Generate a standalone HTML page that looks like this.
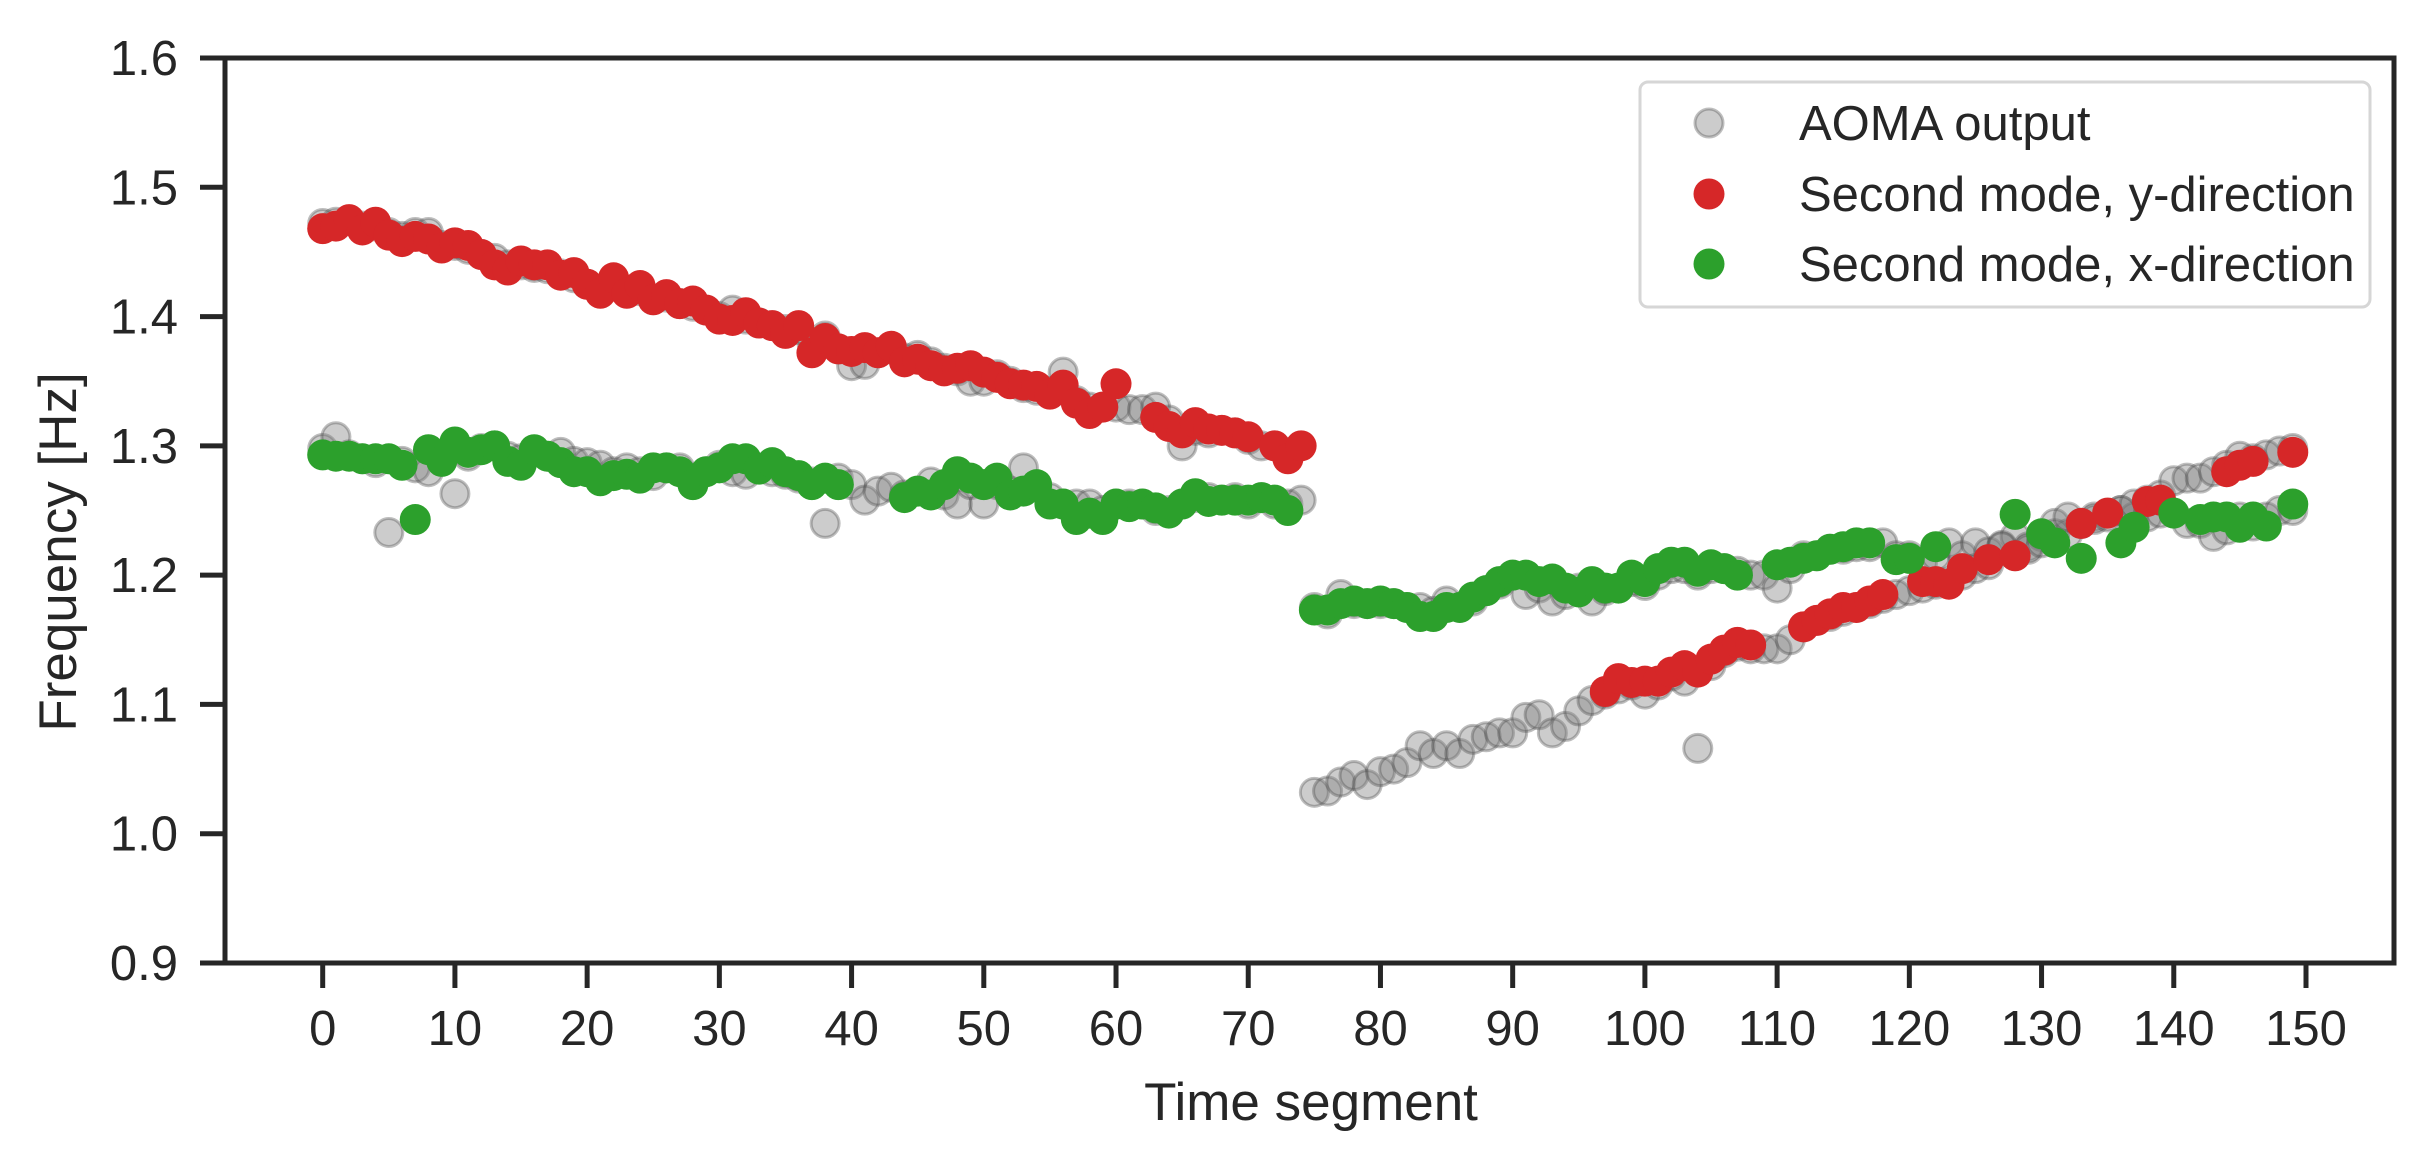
<!DOCTYPE html>
<html><head><meta charset="utf-8"><style>
html,body{margin:0;padding:0;background:#fff;}
svg{display:block;font-family:"Liberation Sans",Arial,sans-serif;}
</style></head><body>
<svg id="chart" width="2434" height="1165" viewBox="0 0 2434 1165" xmlns="http://www.w3.org/2000/svg">
<rect x="0" y="0" width="2434" height="1165" fill="#fff"/>
<g id="marks"></g>
<g id="axes"></g>
</svg>
<script>
const xTicks=[0,10,20,30,40,50,60,70,80,90,100,110,120,130,140,150];
const yTicks=[0.9,1.0,1.1,1.2,1.3,1.4,1.5,1.6];
const yTickLabels=["0.9","1.0","1.1","1.2","1.3","1.4","1.5","1.6"];
// AOMA output (grey), four branches
const aomaUpper=[1.472,1.473,1.474,1.470,1.470,1.465,1.462,1.465,1.465,1.455,1.455,1.452,1.448,1.445,1.440,1.440,1.438,1.437,1.433,1.430,1.425,1.420,1.425,1.420,1.420,1.413,1.415,1.410,1.408,1.405,1.400,1.405,1.398,1.395,1.393,1.390,1.390,1.380,1.385,1.375,1.362,1.363,1.372,1.375,1.368,1.370,1.365,1.360,1.358,1.350,1.350,1.355,1.350,1.345,1.343,1.342,1.357,1.335,1.330,1.330,1.330,1.328,1.328,1.330,1.320,1.300,1.312,1.310,1.312,1.310,1.305,1.300,1.300,1.295,null];
const aomaLower=[1.298,1.307,1.293,1.290,1.287,1.233,1.288,1.283,1.280,1.290,1.263,1.292,1.298,1.300,1.292,1.290,1.295,1.292,1.295,1.288,1.287,1.285,1.280,1.283,1.280,1.277,1.283,1.283,1.275,1.280,1.285,1.280,1.278,1.283,1.280,1.278,1.275,1.272,1.240,1.275,1.270,1.258,1.265,1.268,1.262,1.265,1.272,1.262,1.255,1.270,1.255,1.270,1.265,1.283,1.268,1.260,1.255,1.255,1.255,1.250,1.255,1.255,1.255,1.250,1.250,1.255,1.260,1.260,1.258,1.260,1.255,1.260,1.255,1.255,1.258];
const aomaHigh=[1.175,1.170,1.185,1.178,1.178,1.178,1.178,1.175,1.175,1.172,1.180,1.175,1.180,1.188,1.193,1.200,1.185,1.190,1.180,1.185,1.190,1.180,1.188,1.190,1.195,1.192,1.200,1.205,1.205,1.200,1.205,1.205,1.203,1.200,1.200,1.190,1.205,1.215,1.215,1.220,1.220,1.222,1.222,1.225,1.215,1.215,1.210,1.215,1.225,1.215,1.225,1.218,1.223,1.230,1.222,1.230,1.240,1.232,1.240,1.245,1.248,1.250,1.245,1.245,1.248,1.248,1.240,1.240,1.230,1.235,1.245,1.238,1.245,1.250,1.250];
const aomaLow=[1.032,1.033,1.040,1.045,1.038,1.048,1.050,1.055,1.068,1.062,1.068,1.062,1.073,1.075,1.078,1.078,1.090,1.092,1.078,1.083,1.095,1.103,1.108,1.112,1.115,1.108,1.115,1.122,1.118,1.066,1.130,1.140,1.145,1.143,1.143,1.143,1.150,1.160,1.165,1.168,1.172,1.175,1.178,1.182,1.185,1.188,1.190,1.193,1.195,1.200,1.205,1.208,1.222,1.215,1.220,1.225,1.232,1.245,1.240,1.243,1.245,1.250,1.255,1.258,1.262,1.273,1.275,1.275,1.280,1.285,1.292,1.290,1.293,1.296,1.298];
// Second mode, y-direction (red)
const redAX=[0,1,2,3,4,5,6,7,8,9,10,11,12,13,14,15,16,17,18,19,20,21,22,23,24,25,26,27,28,29,30,31,32,33,34,35,36,37,38,39,40,41,42,43,44,45,46,47,48,49,50,51,52,53,54,55,56,57,58,59,60,63,64,65,66,67,68,69,70,72,73,74];
const redAY=[1.468,1.470,1.475,1.467,1.473,1.463,1.458,1.462,1.460,1.453,1.457,1.455,1.448,1.440,1.436,1.443,1.440,1.440,1.432,1.434,1.425,1.418,1.430,1.418,1.424,1.413,1.417,1.410,1.412,1.405,1.398,1.397,1.403,1.395,1.393,1.387,1.393,1.372,1.383,1.375,1.373,1.376,1.372,1.377,1.365,1.367,1.362,1.358,1.360,1.362,1.357,1.353,1.348,1.347,1.346,1.340,1.347,1.333,1.325,1.330,1.348,1.322,1.315,1.310,1.318,1.313,1.312,1.310,1.307,1.300,1.290,1.300];
const redBX=[97,98,99,100,101,102,103,104,105,106,107,108,112,113,114,115,116,117,118,121,122,123,124,126,128,133,135,138,139,144,145,146,149];
const redBY=[1.110,1.120,1.117,1.118,1.118,1.125,1.130,1.125,1.135,1.142,1.148,1.146,1.160,1.165,1.170,1.175,1.175,1.180,1.185,1.195,1.195,1.193,1.205,1.212,1.215,1.240,1.248,1.257,1.258,1.280,1.285,1.288,1.295];
// Second mode, x-direction (green)
const greenX=[0,1,2,3,4,5,6,7,8,9,10,11,12,13,14,15,16,17,18,19,20,21,22,23,24,25,26,27,28,29,30,31,32,33,34,35,36,37,38,39,44,45,46,47,48,49,50,51,52,53,54,55,56,57,58,59,60,61,62,63,64,65,66,67,68,69,70,71,72,73,
75,76,77,78,79,80,81,82,83,84,85,86,87,88,89,90,91,92,93,94,95,96,97,98,99,100,101,102,103,104,105,106,107,110,111,112,113,114,115,116,117,119,120,122,128,130,131,133,136,137,140,142,143,144,145,146,147,149];
const greenY=[1.293,1.292,1.292,1.290,1.290,1.290,1.285,1.243,1.297,1.288,1.303,1.295,1.297,1.300,1.288,1.285,1.297,1.292,1.287,1.280,1.280,1.273,1.277,1.278,1.275,1.283,1.283,1.280,1.270,1.280,1.283,1.290,1.290,1.282,1.287,1.280,1.277,1.270,1.275,1.270,1.260,1.265,1.262,1.270,1.280,1.275,1.270,1.275,1.262,1.265,1.270,1.255,1.255,1.243,1.248,1.243,1.255,1.253,1.255,1.252,1.248,1.255,1.263,1.257,1.258,1.258,1.258,1.260,1.258,1.250,
1.173,1.173,1.178,1.180,1.178,1.180,1.178,1.175,1.168,1.168,1.175,1.175,1.183,1.188,1.195,1.200,1.200,1.195,1.197,1.190,1.187,1.195,1.190,1.190,1.200,1.195,1.205,1.210,1.210,1.203,1.208,1.205,1.200,1.208,1.210,1.213,1.215,1.220,1.222,1.225,1.225,1.212,1.213,1.222,1.247,1.232,1.225,1.213,1.225,1.237,1.248,1.243,1.245,1.245,1.237,1.245,1.238,1.255];

const NS='http://www.w3.org/2000/svg';
const L=225,R=2394,T=58,B=963;
const x0=322.7,x150=2306;
function sx(v){return x0+(x150-x0)*v/150;}
function sy(v){return B-(v-0.9)/(0.7)*(B-T);}
const marks=document.getElementById('marks');
const axes=document.getElementById('axes');
function mk(tag,attrs,parent){const e=document.createElementNS(NS,tag);for(const k in attrs)e.setAttribute(k,attrs[k]);parent.appendChild(e);return e;}
function dot(x,y,kind){
  let e;
  if(kind==='gray'){e=mk('circle',{cx:sx(x),cy:sy(y),r:14,fill:'rgba(128,128,128,0.4)',stroke:'rgba(70,70,70,0.35)','stroke-width':3},marks);
    }
  else if(kind==='red'){e=mk('circle',{cx:sx(x),cy:sy(y),r:15.5,fill:'#d62728'},marks);
    }
  else {e=mk('circle',{cx:sx(x),cy:sy(y),r:15.5,fill:'#2ca02c'},marks);
    }
  
}
aomaUpper.forEach((v,i)=>{if(v!==null)dot(i,v,'gray');});
aomaLower.forEach((v,i)=>{if(v!==null)dot(i,v,'gray');});
aomaHigh.forEach((v,i)=>{if(v!==null)dot(75+i,v,'gray');});
aomaLow.forEach((v,i)=>{if(v!==null)dot(75+i,v,'gray');});
redAX.forEach((x,i)=>dot(x,redAY[i],'red'));
redBX.forEach((x,i)=>dot(x,redBY[i],'red'));
greenX.forEach((x,i)=>dot(x,greenY[i],'green'));

const frame=mk('rect',{x:L,y:T,width:R-L,height:B-T,fill:'none',stroke:'#262626','stroke-width':5},axes);


xTicks.forEach(t=>{
  const ln=mk('line',{x1:sx(t),x2:sx(t),y1:B,y2:B+25,stroke:'#262626','stroke-width':5},axes);
  
  
  const tx=mk('text',{x:sx(t),y:1045,'text-anchor':'middle','font-size':49,fill:'#262626'},axes);
  tx.textContent=String(t);
  
  
});
yTicks.forEach((t,i)=>{
  const ln=mk('line',{x1:L-25,x2:L,y1:sy(t),y2:sy(t),stroke:'#262626','stroke-width':5},axes);
  
  
  const tx=mk('text',{x:178,y:sy(t)+17,'text-anchor':'end','font-size':49,fill:'#262626'},axes);
  tx.textContent=yTickLabels[i];
  
  
});
</script>
<svg style="position:absolute;left:0;top:0" width="2434" height="1165">
<text x="1311" y="1120" text-anchor="middle" font-size="53" fill="#262626" font-family="Liberation Sans, Arial, sans-serif">Time segment</text>
<text transform="translate(76,552) rotate(-90)" text-anchor="middle" font-size="53" fill="#262626" font-family="Liberation Sans, Arial, sans-serif">Frequency [Hz]</text>
<g font-family="Liberation Sans, Arial, sans-serif" font-size="49" fill="#262626">
<rect x="1640" y="82" width="730" height="225" rx="8" fill="rgba(255,255,255,0.8)" stroke="#d6d6d6" stroke-width="3"/>
<circle cx="1709" cy="123" r="14" fill="rgba(128,128,128,0.4)" stroke="rgba(70,70,70,0.35)" stroke-width="3"/>
<text x="1799" y="140">AOMA output</text>
<circle cx="1709" cy="194" r="15.5" fill="#d62728"/>
<text x="1799" y="211">Second mode, y-direction</text>
<circle cx="1709" cy="264" r="15.5" fill="#2ca02c"/>
<text x="1799" y="281">Second mode, x-direction</text>
</g>
</svg>
</body></html>
